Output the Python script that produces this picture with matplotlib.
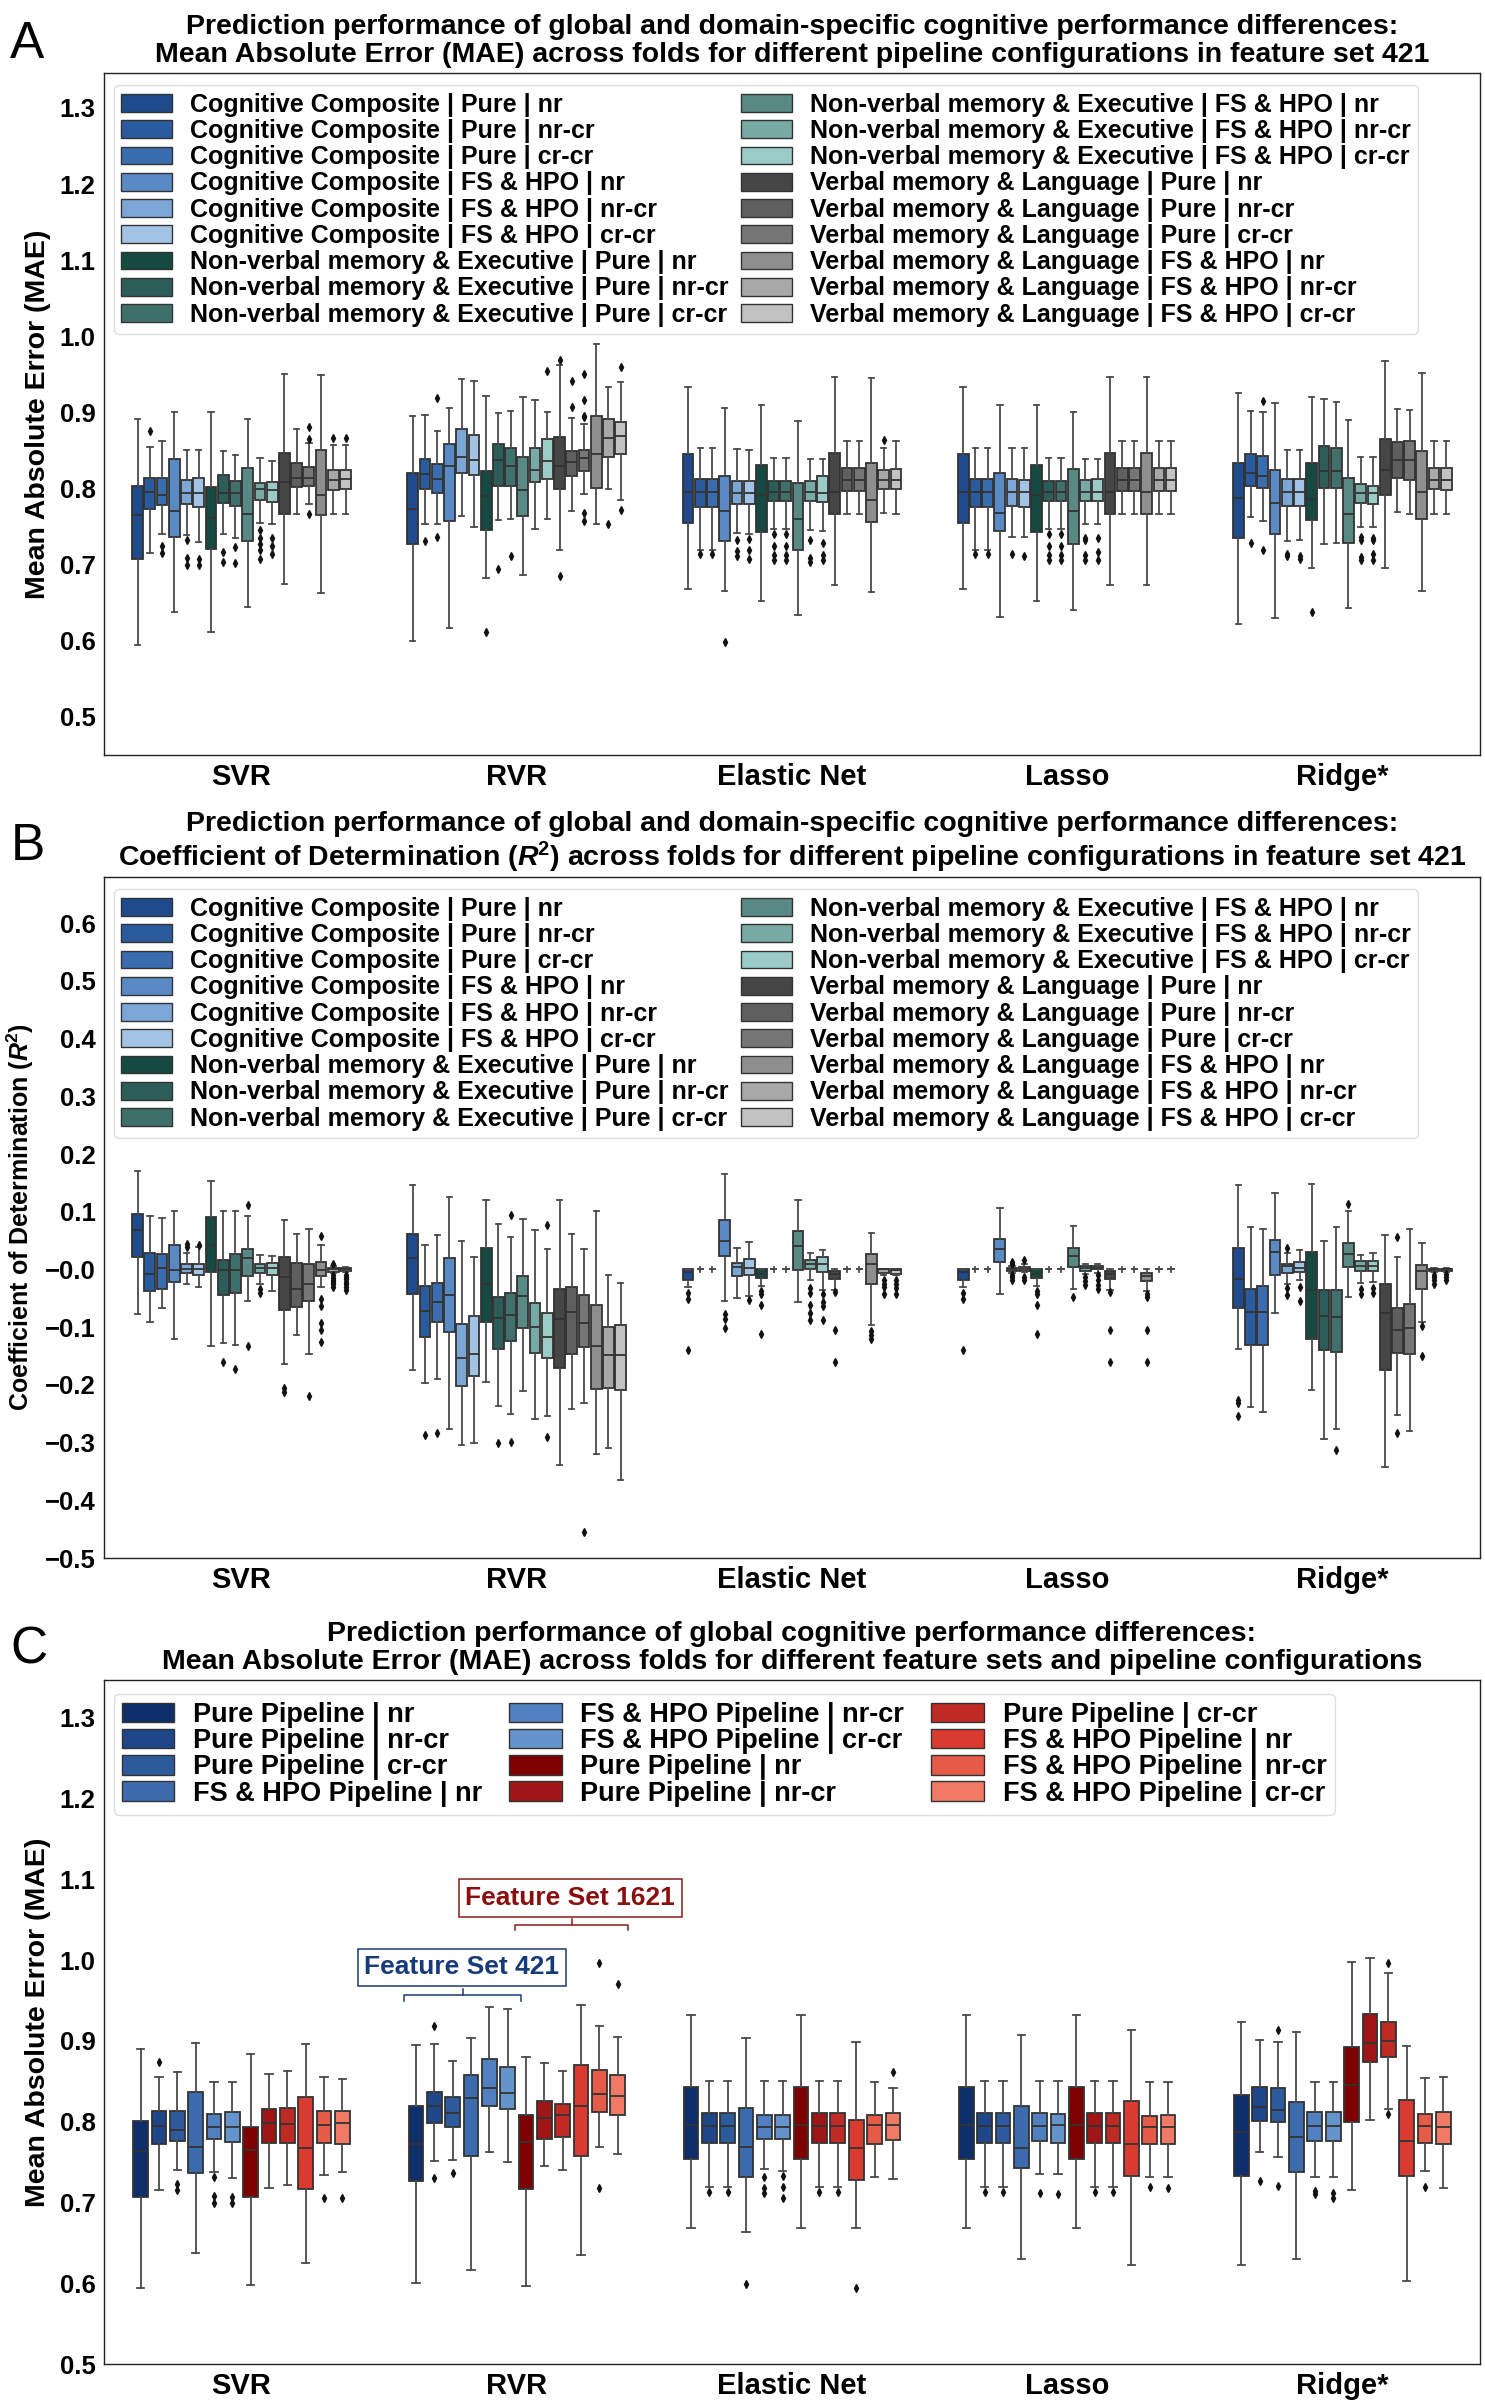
import matplotlib
matplotlib.use('Agg')
import matplotlib.pyplot as plt
from matplotlib.patches import Patch
import numpy as np

plt.rcParams['font.family'] = ['Liberation Sans', 'DejaVu Sans']
plt.rcParams['mathtext.fontset'] = 'custom'
plt.rcParams['mathtext.rm'] = 'Liberation Sans'
plt.rcParams['mathtext.it'] = 'Liberation Sans:italic'
plt.rcParams['mathtext.bf'] = 'Liberation Sans:bold'
try:
    plt.rcParams['mathtext.bfit'] = 'Liberation Sans:bold:italic'
    R2 = r'$\mathbfit{R}^{\mathbf{2}}$'
except KeyError:
    R2 = r'$\mathbf{R^2}$'

# ---------------- data ----------------
MODELS = ['SVR', 'RVR', 'Elastic Net', 'Lasso', 'Ridge*']

DOMAINS = ['Cognitive Composite', 'Non-verbal memory & Executive', 'Verbal memory & Language']
PIPES = ['Pure', 'FS & HPO']
CONFS = ['nr', 'nr-cr', 'cr-cr']
LABELS_AB = [f'{d} | {p} | {c}' for d in DOMAINS for p in PIPES for c in CONFS]
LABELS_C = [f'{p} Pipeline | {c}' for p in ['Pure', 'FS & HPO'] for c in CONFS] * 2

COLORS_AB = ['#1f4a8c', '#2b5b9f', '#3a6cb0', '#5a8ac4', '#7ca6d6', '#a3c3e6',
             '#154a43', '#2c5d58', '#3f706b', '#598985', '#78aaa5', '#9acbc7',
             '#464646', '#5f5f5f', '#767676', '#8e8e8e', '#a8a8a8', '#c2c2c2']
COLORS_C = ['#0e2f6b', '#1f4688', '#2d5a9c', '#3c6cae', '#5080bf', '#6593cc',
            '#7f0000', '#a01616', '#bf2a25', '#d93b30', '#e65a48', '#f07a66']

# stats per box: (whisker_low, q1, median, q3, whisker_high)
A_SVR = [(0.595, 0.708, 0.765, 0.803, 0.892), (0.716, 0.773, 0.796, 0.814, 0.854),
         (0.741, 0.778, 0.791, 0.814, 0.862), (0.638, 0.736, 0.771, 0.839, 0.900),
         (0.739, 0.780, 0.794, 0.811, 0.851), (0.730, 0.776, 0.794, 0.814, 0.851),
         (0.611, 0.721, 0.762, 0.802, 0.900), (0.740, 0.781, 0.794, 0.818, 0.850),
         (0.735, 0.777, 0.794, 0.810, 0.844), (0.645, 0.731, 0.767, 0.827, 0.892),
         (0.755, 0.785, 0.799, 0.807, 0.840), (0.753, 0.783, 0.798, 0.809, 0.836),
         (0.675, 0.767, 0.809, 0.847, 0.950), (0.767, 0.802, 0.814, 0.833, 0.878),
         (0.780, 0.804, 0.814, 0.828, 0.860), (0.663, 0.765, 0.791, 0.851, 0.949),
         (0.767, 0.798, 0.811, 0.824, 0.857), (0.766, 0.799, 0.812, 0.825, 0.857)]
A_SVR_FL = {1: [0.876], 2: [0.724, 0.716], 4: [0.732, 0.709, 0.700], 5: [0.707, 0.700],
            7: [0.717, 0.703], 8: [0.723, 0.702], 10: [0.745, 0.735, 0.727, 0.719, 0.707],
            11: [0.735, 0.725, 0.714], 14: [0.881, 0.865, 0.766], 16: [0.867], 17: [0.867]}

A_RVR = [(0.600, 0.727, 0.773, 0.821, 0.896), (0.753, 0.799, 0.819, 0.839, 0.897),
         (0.754, 0.794, 0.812, 0.832, 0.876), (0.617, 0.757, 0.830, 0.859, 0.906),
         (0.764, 0.821, 0.842, 0.878, 0.944), (0.750, 0.818, 0.838, 0.870, 0.942),
         (0.682, 0.746, 0.790, 0.823, 0.921), (0.759, 0.804, 0.838, 0.859, 0.899),
         (0.760, 0.803, 0.830, 0.853, 0.902), (0.686, 0.764, 0.798, 0.841, 0.920),
         (0.747, 0.809, 0.825, 0.853, 0.917), (0.760, 0.813, 0.836, 0.865, 0.901),
         (0.720, 0.800, 0.830, 0.868, 0.963), (0.770, 0.817, 0.835, 0.849, 0.893),
         (0.793, 0.823, 0.840, 0.851, 0.885), (0.753, 0.801, 0.845, 0.895, 0.990),
         (0.800, 0.842, 0.867, 0.892, 0.934), (0.785, 0.845, 0.869, 0.888, 0.940)]
A_RVR_FL = {1: [0.731], 2: [0.919, 0.736], 6: [0.611], 7: [0.694], 8: [0.711], 11: [0.954],
            12: [0.969, 0.685], 13: [0.941, 0.907],
            14: [0.951, 0.917, 0.896, 0.894, 0.768, 0.757], 16: [0.754], 17: [0.960, 0.772]}

A_EN = [(0.668, 0.755, 0.796, 0.845, 0.934), (0.720, 0.776, 0.796, 0.813, 0.853),
        (0.720, 0.776, 0.796, 0.813, 0.853), (0.665, 0.731, 0.771, 0.817, 0.906),
        (0.742, 0.780, 0.794, 0.810, 0.852), (0.740, 0.780, 0.794, 0.810, 0.851),
        (0.653, 0.743, 0.792, 0.831, 0.910), (0.747, 0.784, 0.796, 0.810, 0.840),
        (0.747, 0.784, 0.796, 0.810, 0.840), (0.634, 0.720, 0.760, 0.807, 0.889),
        (0.746, 0.784, 0.795, 0.810, 0.839), (0.744, 0.782, 0.794, 0.816, 0.839),
        (0.674, 0.766, 0.795, 0.847, 0.947), (0.767, 0.797, 0.811, 0.827, 0.863),
        (0.767, 0.797, 0.811, 0.827, 0.863), (0.664, 0.756, 0.785, 0.833, 0.945),
        (0.768, 0.800, 0.811, 0.824, 0.853), (0.767, 0.800, 0.811, 0.826, 0.863)]
A_EN_FL = {1: [0.714], 2: [0.714], 3: [0.599], 4: [0.732, 0.718, 0.712], 5: [0.734, 0.720, 0.707],
           7: [0.741, 0.725, 0.713, 0.706], 8: [0.741, 0.725, 0.713, 0.706],
           10: [0.732, 0.709, 0.703], 11: [0.728, 0.713, 0.706], 16: [0.864]}

A_LASSO = [(0.668, 0.755, 0.796, 0.845, 0.934), (0.720, 0.776, 0.796, 0.813, 0.853),
           (0.720, 0.776, 0.796, 0.813, 0.853), (0.631, 0.744, 0.768, 0.821, 0.910),
           (0.736, 0.777, 0.796, 0.812, 0.853), (0.736, 0.776, 0.796, 0.811, 0.853),
           (0.653, 0.743, 0.792, 0.831, 0.910), (0.747, 0.784, 0.796, 0.810, 0.840),
           (0.747, 0.784, 0.796, 0.810, 0.840), (0.641, 0.727, 0.771, 0.826, 0.901),
           (0.753, 0.784, 0.796, 0.811, 0.839), (0.753, 0.784, 0.796, 0.812, 0.839),
           (0.674, 0.766, 0.795, 0.847, 0.947), (0.767, 0.797, 0.811, 0.827, 0.863),
           (0.767, 0.797, 0.811, 0.827, 0.863), (0.674, 0.766, 0.795, 0.847, 0.947),
           (0.767, 0.797, 0.811, 0.827, 0.863), (0.767, 0.797, 0.811, 0.827, 0.863)]
A_LASSO_FL = {1: [0.714], 2: [0.714], 4: [0.714], 5: [0.711],
              7: [0.741, 0.725, 0.713, 0.706], 8: [0.741, 0.725, 0.713, 0.706],
              10: [0.735, 0.733, 0.713, 0.706], 11: [0.735, 0.717, 0.706]}

A_RIDGE = [(0.622, 0.735, 0.788, 0.834, 0.926), (0.763, 0.803, 0.820, 0.845, 0.902),
           (0.757, 0.801, 0.816, 0.843, 0.900), (0.630, 0.740, 0.781, 0.825, 0.912),
           (0.731, 0.777, 0.796, 0.812, 0.851), (0.733, 0.777, 0.796, 0.812, 0.851),
           (0.696, 0.759, 0.786, 0.833, 0.920), (0.727, 0.801, 0.823, 0.856, 0.918),
           (0.728, 0.801, 0.823, 0.853, 0.914), (0.643, 0.728, 0.766, 0.814, 0.890),
           (0.749, 0.781, 0.794, 0.806, 0.842), (0.750, 0.780, 0.794, 0.804, 0.842),
           (0.696, 0.792, 0.824, 0.865, 0.967), (0.769, 0.814, 0.838, 0.861, 0.904),
           (0.766, 0.811, 0.837, 0.863, 0.903), (0.666, 0.760, 0.796, 0.850, 0.952),
           (0.767, 0.799, 0.811, 0.827, 0.863), (0.766, 0.798, 0.811, 0.827, 0.863)]
A_RIDGE_FL = {1: [0.728], 2: [0.915, 0.720], 4: [0.714, 0.711], 5: [0.712, 0.707], 6: [0.638],
              10: [0.736, 0.732, 0.710, 0.706], 11: [0.735, 0.732, 0.714, 0.706]}

B_SVR = [(-0.077, 0.021, 0.069, 0.096, 0.171), (-0.091, -0.037, -0.008, 0.028, 0.093),
         (-0.067, -0.034, 0.002, 0.027, 0.089), (-0.120, -0.022, -0.001, 0.043, 0.102),
         (-0.026, -0.006, 0.001, 0.009, 0.029), (-0.030, -0.009, 0.000, 0.010, 0.039),
         (-0.132, -0.004, 0.043, 0.091, 0.154), (-0.128, -0.044, -0.001, 0.016, 0.101),
         (-0.130, -0.041, -0.001, 0.027, 0.102), (-0.055, -0.011, 0.020, 0.036, 0.093),
         (-0.026, -0.006, 0.002, 0.010, 0.025), (-0.038, -0.009, 0.003, 0.012, 0.024),
         (-0.163, -0.070, -0.013, 0.022, 0.085), (-0.114, -0.065, -0.034, 0.011, 0.062),
         (-0.146, -0.055, -0.026, 0.010, 0.070), (-0.031, -0.011, -0.001, 0.013, 0.042),
         (-0.006, -0.004, 0.000, 0.003, 0.006), (-0.005, -0.003, 0.000, 0.002, 0.004)]
B_SVR_FL = {4: [0.044, 0.039], 5: [0.043], 7: [-0.161], 8: [-0.172], 9: [0.111, -0.132],
            10: [-0.033, -0.040], 12: [-0.206, -0.212], 14: [-0.219],
            15: [0.058, -0.051, -0.064, -0.092, -0.104, -0.126],
            16: [0.010, -0.010, -0.014, -0.018, -0.022, -0.026, -0.030],
            17: [-0.009, -0.013, -0.017, -0.021, -0.025, -0.030, -0.036]}

B_RVR = [(-0.174, -0.042, 0.020, 0.061, 0.147), (-0.197, -0.117, -0.072, -0.028, 0.042),
         (-0.190, -0.091, -0.056, -0.023, 0.059), (-0.276, -0.109, -0.045, 0.020, 0.126),
         (-0.304, -0.202, -0.153, -0.094, 0.050), (-0.301, -0.185, -0.146, -0.080, 0.022),
         (-0.195, -0.091, -0.025, 0.037, 0.120), (-0.237, -0.138, -0.084, -0.047, 0.078),
         (-0.251, -0.124, -0.079, -0.041, 0.056), (-0.210, -0.101, -0.046, -0.012, 0.087),
         (-0.259, -0.144, -0.100, -0.058, 0.068), (-0.254, -0.154, -0.117, -0.075, 0.035),
         (-0.339, -0.170, -0.086, -0.033, 0.121), (-0.242, -0.146, -0.073, -0.031, 0.062),
         (-0.232, -0.135, -0.093, -0.045, 0.035), (-0.319, -0.207, -0.132, -0.061, 0.102),
         (-0.310, -0.205, -0.148, -0.100, -0.010), (-0.364, -0.208, -0.149, -0.096, -0.024)]
B_RVR_FL = {1: [-0.287], 2: [-0.284], 7: [-0.300], 8: [0.095, -0.299], 11: [0.077, -0.290],
            14: [-0.455]}

B_EN = [(-0.030, -0.018, -0.004, 0.000, 0.000), (0.0, 0.0, 0.0, 0.0, 0.0), (0.0, 0.0, 0.0, 0.0, 0.0),
        (-0.055, 0.024, 0.050, 0.085, 0.166), (-0.049, -0.011, 0.004, 0.012, 0.037),
        (-0.046, -0.009, 0.002, 0.018, 0.047), (-0.029, -0.014, -0.007, 0.000, 0.000),
        (0.0, 0.0, 0.0, 0.0, 0.0), (0.0, 0.0, 0.0, 0.0, 0.0),
        (-0.056, -0.001, 0.041, 0.067, 0.121), (-0.019, 0.000, 0.009, 0.017, 0.028),
        (-0.035, -0.004, 0.009, 0.021, 0.033), (-0.036, -0.016, -0.007, -0.002, 0.000),
        (0.0, 0.0, 0.0, 0.0, 0.0), (0.0, 0.0, 0.0, 0.0, 0.0),
        (-0.096, -0.026, 0.010, 0.027, 0.064), (-0.010, -0.006, 0.000, 0.000, 0.000),
        (-0.010, -0.008, -0.001, 0.000, 0.000)]
B_EN_FL = {0: [-0.040, -0.052, -0.140], 3: [-0.077, -0.085, -0.102], 5: [-0.053],
           6: [-0.038, -0.042, -0.061, -0.111], 10: [-0.032, -0.040, -0.061, -0.075, -0.088],
           11: [-0.043, -0.056, -0.063, -0.087], 12: [-0.039, -0.105, -0.160],
           15: [-0.106, -0.114, -0.120], 16: [-0.018, -0.025, -0.030, -0.042],
           17: [-0.018, -0.025, -0.032, -0.042]}

B_LASSO = [(-0.030, -0.018, -0.004, 0.000, 0.000), (0.0, 0.0, 0.0, 0.0, 0.0), (0.0, 0.0, 0.0, 0.0, 0.0),
           (-0.043, 0.013, 0.036, 0.053, 0.107), (-0.006, -0.003, 0.000, 0.003, 0.006),
           (-0.005, -0.002, 0.001, 0.004, 0.010), (-0.029, -0.014, -0.007, 0.000, 0.000),
           (0.0, 0.0, 0.0, 0.0, 0.0), (0.0, 0.0, 0.0, 0.0, 0.0),
           (-0.034, 0.004, 0.024, 0.037, 0.076), (-0.008, -0.002, 0.002, 0.006, 0.009),
           (-0.006, 0.000, 0.002, 0.006, 0.010), (-0.036, -0.016, -0.007, -0.002, 0.000),
           (0.0, 0.0, 0.0, 0.0, 0.0), (0.0, 0.0, 0.0, 0.0, 0.0),
           (-0.037, -0.020, -0.011, -0.006, 0.000), (0.0, 0.0, 0.0, 0.0, 0.0), (0.0, 0.0, 0.0, 0.0, 0.0)]
B_LASSO_FL = {0: [-0.040, -0.052, -0.140], 4: [0.013, 0.010, -0.010, -0.013, -0.018],
              5: [0.016, -0.013, -0.018], 6: [-0.038, -0.042, -0.061, -0.111], 9: [-0.048],
              10: [-0.013, -0.020, -0.027], 11: [-0.010, -0.019, -0.027, -0.033],
              12: [-0.039, -0.105, -0.160], 15: [-0.043, -0.048, -0.105, -0.160]}

B_RIDGE = [(-0.138, -0.066, -0.017, 0.037, 0.147), (-0.238, -0.131, -0.073, -0.033, 0.073),
           (-0.247, -0.130, -0.074, -0.029, 0.070), (-0.075, -0.010, 0.031, 0.051, 0.132),
           (-0.025, -0.006, 0.006, 0.010, 0.028), (-0.019, -0.005, 0.003, 0.013, 0.034),
           (-0.209, -0.120, -0.036, 0.031, 0.148), (-0.293, -0.140, -0.081, -0.036, 0.050),
           (-0.276, -0.143, -0.082, -0.035, 0.074), (-0.047, 0.004, 0.027, 0.046, 0.102),
           (-0.024, -0.002, 0.006, 0.014, 0.025), (-0.021, -0.002, 0.006, 0.014, 0.029),
           (-0.342, -0.174, -0.075, -0.026, 0.060), (-0.252, -0.145, -0.105, -0.066, 0.022),
           (-0.280, -0.147, -0.102, -0.059, 0.070), (-0.091, -0.034, -0.003, 0.008, 0.045),
           (-0.005, -0.003, 0.000, 0.001, 0.002), (-0.004, -0.002, 0.000, 0.001, 0.002)]
B_RIDGE_FL = {0: [-0.226, -0.231, -0.254], 4: [0.037, -0.032, -0.044], 5: [-0.030, -0.055],
              8: [-0.312], 9: [0.114], 10: [-0.033, -0.042], 11: [-0.032, -0.041],
              13: [0.057, -0.283], 15: [-0.098, -0.150], 16: [-0.009, -0.013, -0.019, -0.026],
              17: [-0.008, -0.013, -0.018]}

C_SVR = [(0.594, 0.707, 0.764, 0.801, 0.890), (0.716, 0.773, 0.795, 0.813, 0.855),
         (0.740, 0.776, 0.790, 0.813, 0.861), (0.637, 0.736, 0.769, 0.837, 0.898),
         (0.738, 0.779, 0.793, 0.810, 0.849), (0.730, 0.775, 0.793, 0.812, 0.849),
         (0.598, 0.707, 0.765, 0.793, 0.884), (0.718, 0.774, 0.799, 0.816, 0.859),
         (0.722, 0.774, 0.797, 0.817, 0.863), (0.625, 0.717, 0.768, 0.831, 0.896),
         (0.734, 0.774, 0.796, 0.813, 0.856), (0.738, 0.773, 0.798, 0.813, 0.853)]
C_SVR_FL = {1: [0.874], 2: [0.723, 0.715], 4: [0.731, 0.708, 0.699], 5: [0.707, 0.699],
            10: [0.706], 11: [0.705]}

C_RVR = [(0.600, 0.726, 0.773, 0.819, 0.895), (0.751, 0.798, 0.819, 0.837, 0.896),
         (0.752, 0.793, 0.811, 0.831, 0.875), (0.616, 0.757, 0.829, 0.858, 0.904),
         (0.763, 0.819, 0.842, 0.878, 0.942), (0.750, 0.816, 0.836, 0.868, 0.940),
         (0.596, 0.717, 0.775, 0.808, 0.880), (0.745, 0.779, 0.805, 0.826, 0.873),
         (0.740, 0.781, 0.808, 0.822, 0.863), (0.635, 0.757, 0.820, 0.870, 0.944),
         (0.769, 0.812, 0.834, 0.864, 0.918), (0.760, 0.808, 0.832, 0.858, 0.905)]
C_RVR_FL = {1: [0.918, 0.730], 2: [0.736], 10: [0.996, 0.718], 11: [0.970]}

C_EN = [(0.668, 0.754, 0.796, 0.843, 0.932), (0.719, 0.774, 0.795, 0.811, 0.851),
        (0.719, 0.774, 0.795, 0.811, 0.851), (0.664, 0.731, 0.769, 0.817, 0.904),
        (0.741, 0.778, 0.793, 0.808, 0.851), (0.739, 0.778, 0.793, 0.808, 0.850),
        (0.668, 0.754, 0.796, 0.843, 0.932), (0.719, 0.774, 0.795, 0.811, 0.851),
        (0.719, 0.774, 0.795, 0.811, 0.851), (0.668, 0.728, 0.768, 0.802, 0.899),
        (0.731, 0.773, 0.796, 0.808, 0.849), (0.729, 0.777, 0.796, 0.811, 0.842)]
C_EN_FL = {1: [0.713], 2: [0.713], 3: [0.599], 4: [0.732, 0.718, 0.712], 5: [0.733, 0.719, 0.705],
           7: [0.713], 8: [0.713], 9: [0.594], 11: [0.861]}

C_LASSO = [(0.668, 0.754, 0.796, 0.843, 0.932), (0.719, 0.774, 0.795, 0.811, 0.851),
           (0.719, 0.774, 0.795, 0.811, 0.851), (0.630, 0.743, 0.767, 0.820, 0.908),
           (0.735, 0.776, 0.795, 0.811, 0.851), (0.735, 0.774, 0.796, 0.810, 0.851),
           (0.668, 0.754, 0.796, 0.843, 0.932), (0.719, 0.774, 0.795, 0.811, 0.851),
           (0.719, 0.774, 0.795, 0.811, 0.851), (0.622, 0.733, 0.773, 0.826, 0.913),
           (0.732, 0.773, 0.794, 0.807, 0.849), (0.731, 0.773, 0.794, 0.808, 0.849)]
C_LASSO_FL = {1: [0.713], 2: [0.713], 4: [0.712], 5: [0.710], 7: [0.713], 8: [0.713],
              10: [0.719], 11: [0.718]}

C_RIDGE = [(0.622, 0.733, 0.787, 0.833, 0.924), (0.762, 0.801, 0.818, 0.843, 0.901),
           (0.756, 0.800, 0.815, 0.842, 0.899), (0.630, 0.738, 0.781, 0.824, 0.911),
           (0.731, 0.776, 0.795, 0.812, 0.849), (0.732, 0.776, 0.795, 0.812, 0.849),
           (0.715, 0.800, 0.846, 0.892, 0.998), (0.802, 0.874, 0.897, 0.933, 1.003),
           (0.816, 0.880, 0.900, 0.923, 0.984), (0.603, 0.733, 0.776, 0.827, 0.894),
           (0.739, 0.774, 0.795, 0.809, 0.854), (0.718, 0.772, 0.794, 0.812, 0.855)]
C_RIDGE_FL = {1: [0.727], 2: [0.914, 0.720], 4: [0.714, 0.711], 5: [0.712, 0.706],
              8: [0.997, 0.810], 10: [0.719]}

A_DATA = [(A_SVR, A_SVR_FL), (A_RVR, A_RVR_FL), (A_EN, A_EN_FL), (A_LASSO, A_LASSO_FL), (A_RIDGE, A_RIDGE_FL)]
B_DATA = [(B_SVR, B_SVR_FL), (B_RVR, B_RVR_FL), (B_EN, B_EN_FL), (B_LASSO, B_LASSO_FL), (B_RIDGE, B_RIDGE_FL)]
C_DATA = [(C_SVR, C_SVR_FL), (C_RVR, C_RVR_FL), (C_EN, C_EN_FL), (C_LASSO, C_LASSO_FL), (C_RIDGE, C_RIDGE_FL)]

# ---------------- drawing ----------------
LINE = '#4a4a4a'
EDGE = '#333333'


def draw_boxes(ax, data, colors, box_frac):
    n = len(colors)
    slot = 0.8 / n
    for g, (boxes, fl) in enumerate(data):
        stats = []
        for j, (lo, q1, med, q3, hi) in enumerate(boxes):
            stats.append(dict(whislo=lo, q1=q1, med=med, q3=q3, whishi=hi,
                              fliers=np.array(fl.get(j, []), dtype=float)))
        pos = [g + (j - (n - 1) / 2) * slot for j in range(n)]
        w = slot * box_frac
        res = ax.bxp(stats, positions=pos, widths=w, capwidths=w * 0.5,
                     patch_artist=True, manage_ticks=False,
                     boxprops=dict(edgecolor=EDGE, linewidth=1.3),
                     medianprops=dict(color=EDGE, linewidth=1.3),
                     whiskerprops=dict(color=LINE, linewidth=1.3),
                     capprops=dict(color=LINE, linewidth=1.3),
                     flierprops=dict(marker='d', markerfacecolor='#111111',
                                     markeredgecolor='#111111', markersize=3.8))
        for j, (patch, c) in enumerate(zip(res['boxes'], colors)):
            patch.set_facecolor(c)
            lo, q1, med, q3, hi = boxes[j]
            if q3 - q1 == 0:
                # degenerate (all-zero) box: only the caps remain visible, as a small '+'
                patch.set_visible(False)
                res['medians'][j].set_visible(False)
                xm = pos[j]
                ax.plot([xm, xm], [med - 0.0045, med + 0.0045], color=LINE, lw=1.3)


def style_axes(ax, ylim, yticks, ylabel, ylabel_size):
    ax.set_xlim(-0.5, 4.5)
    ax.set_ylim(*ylim)
    ax.set_xticks(range(5))
    ax.set_xticklabels(MODELS, fontsize=21, fontweight='bold')
    ax.set_yticks(yticks)
    ax.set_yticklabels([f'{t:.1f}'.replace('-', '\u2212') for t in yticks],
                       fontsize=18.5, fontweight='bold')
    ax.tick_params(length=0, pad=6)
    ax.set_ylabel(ylabel, fontsize=ylabel_size, fontweight='bold', labelpad=6)
    for s in ax.spines.values():
        s.set_color('#222222')
        s.set_linewidth(1.0)


def add_legend(ax, labels, colors, ncol, anchor, fs, colsp, hlen, lsp):
    handles = [Patch(facecolor=c, edgecolor=EDGE, linewidth=1.0) for c in colors]
    leg = ax.legend(handles, labels, ncol=ncol, loc='upper left', bbox_to_anchor=anchor,
                    borderaxespad=0, prop=dict(size=fs, weight='bold'),
                    handlelength=hlen, handleheight=0.72, labelspacing=lsp,
                    columnspacing=colsp, handletextpad=0.7, borderpad=0.3,
                    frameon=True, fancybox=True, edgecolor='#dddddd', framealpha=1)
    return leg


fig = plt.figure(figsize=(14.85, 24.0), dpi=100)
L, W = 0.0700, 0.9266
TFS = 20.5

axA = fig.add_axes([L, 0.6854, W, 0.2842])
draw_boxes(axA, A_DATA, COLORS_AB, 0.88)
style_axes(axA, (0.45, 1.346), np.round(np.arange(0.5, 1.31, 0.1), 1), 'Mean Absolute Error (MAE)', 20.5)
add_legend(axA, LABELS_AB, COLORS_AB, 2, (0.007, 0.982), 18, 0.5, 2.05, 0.09)
axA.set_title('Prediction performance of global and domain-specific cognitive performance differences:\n'
              'Mean Absolute Error (MAE) across folds for different pipeline configurations in feature set 421',
              fontsize=TFS, fontweight='bold', pad=8, linespacing=1.1)

axB = fig.add_axes([L, 0.3508, W, 0.2838])
draw_boxes(axB, B_DATA, COLORS_AB, 0.88)
style_axes(axB, (-0.5, 0.68), np.round(np.arange(-0.5, 0.61, 0.1), 1),
           'Coefficient of Determination (' + R2 + ')', 18)
add_legend(axB, LABELS_AB, COLORS_AB, 2, (0.007, 0.982), 18, 0.5, 2.05, 0.09)
axB.set_title('Prediction performance of global and domain-specific cognitive performance differences:\n'
              'Coefficient of Determination (' + R2 + ') across folds for different pipeline configurations in feature set 421',
              fontsize=TFS, fontweight='bold', pad=8, linespacing=1.1)

axC = fig.add_axes([L, 0.0150, W, 0.2850])
draw_boxes(axC, C_DATA, COLORS_C, 0.8)
style_axes(axC, (0.5, 1.347), np.round(np.arange(0.5, 1.31, 0.1), 1), 'Mean Absolute Error (MAE)', 20.5)
add_legend(axC, LABELS_C, COLORS_C, 3, (0.007, 0.98), 19.5, 1.0, 1.93, 0.01)
axC.set_title('Prediction performance of global cognitive performance differences:\n'
              'Mean Absolute Error (MAE) across folds for different feature sets and pipeline configurations',
              fontsize=TFS, fontweight='bold', pad=8, linespacing=1.1)

# feature set annotations (panel C)
def bracket(ax, x0, x1, y, color, h=0.007):
    ax.plot([x0, x0, x1, x1], [y - h, y, y, y - h], color=color, lw=1.1)
    xm = (x0 + x1) / 2
    ax.plot([xm, xm], [y, y + h], color=color, lw=1.1)

bracket(axC, 0.589, 1.017, 0.957, '#1b3a6e')
axC.text(0.80, 0.991, 'Feature Set 421', ha='center', va='center', fontsize=19, fontweight='bold',
         color='#173a7a', bbox=dict(boxstyle='square,pad=0.25', fc='white', ec='#1b3a6e', lw=1.1))
bracket(axC, 0.994, 1.406, 1.044, '#8b1a1a')
axC.text(1.194, 1.077, 'Feature Set 1621', ha='center', va='center', fontsize=19, fontweight='bold',
         color='#8b0f0f', bbox=dict(boxstyle='square,pad=0.25', fc='white', ec='#8b1a1a', lw=1.1))

# panel letters
for lab, y in [('A', 0.9915), ('B', 0.6575), ('C', 0.3225)]:
    fig.text(0.007, y, lab, fontsize=37, ha='left', va='top')

fig.savefig('out.png', dpi=100)
